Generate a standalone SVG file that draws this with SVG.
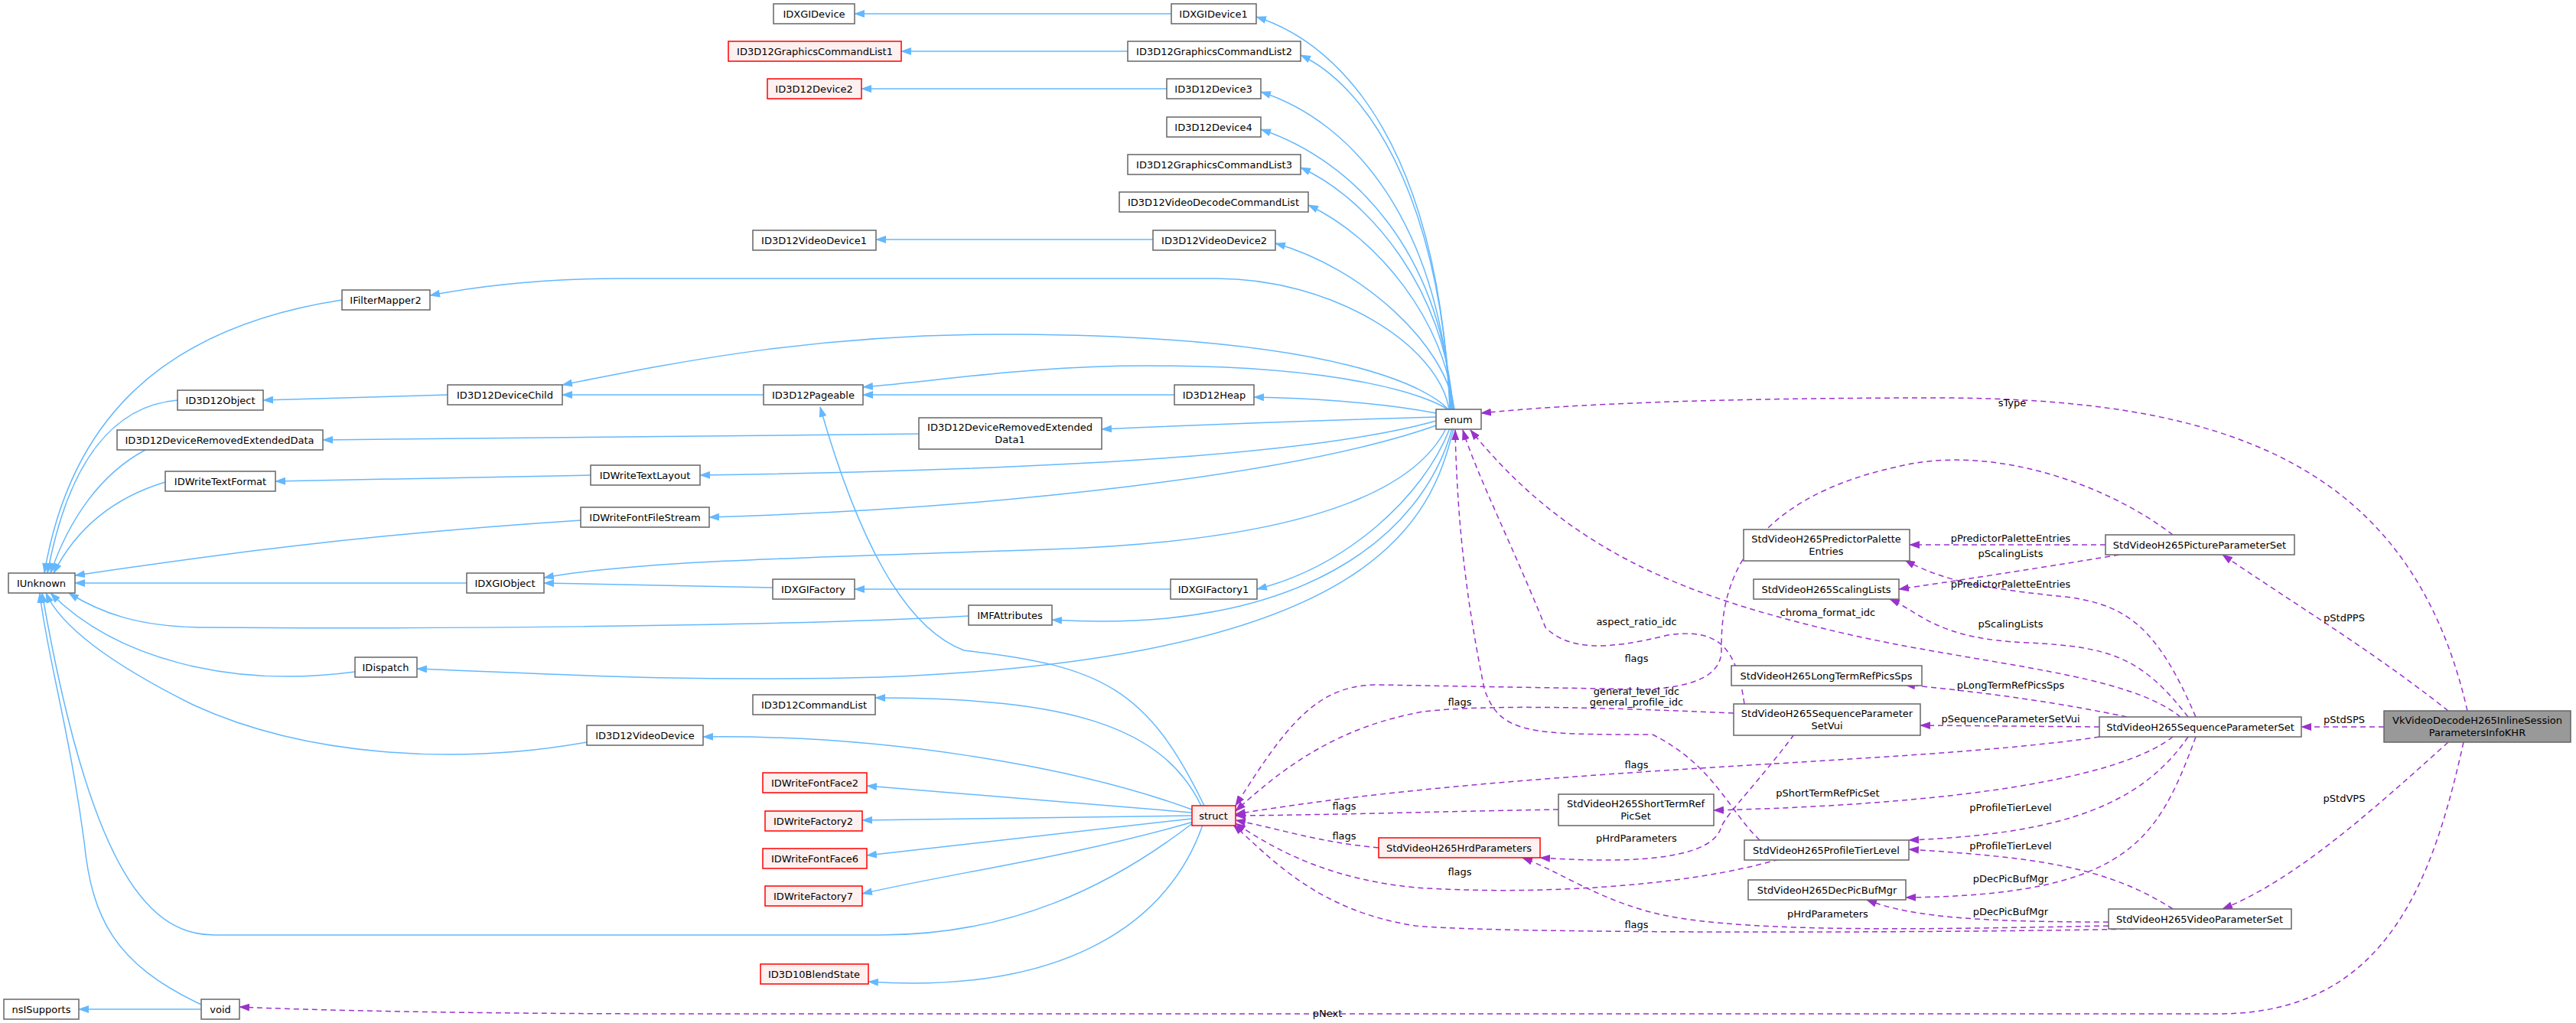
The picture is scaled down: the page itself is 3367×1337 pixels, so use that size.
<svg xmlns="http://www.w3.org/2000/svg" width="3367" height="1337" viewBox="0 0 3367 1337">
<style>
.n rect{fill:#fff;stroke:#666;stroke-width:1.5}
.r rect{fill:#fff0f0;stroke:#f00;stroke-width:1.5}
.g rect{fill:#999;stroke:#666;stroke-width:1.5}
text{font-family:"DejaVu Sans",sans-serif;font-size:13px;fill:#000;text-anchor:middle}
.b path{fill:none;stroke:#63b8ff;stroke-width:1.5}
.p path{fill:none;stroke:#9a32cd;stroke-width:1.5;stroke-dasharray:7,5}
</style>
<defs>
<marker id="ab" markerWidth="14" markerHeight="10" refX="13" refY="5" orient="auto" markerUnits="userSpaceOnUse"><path d="M0,0 L14,5 L0,10 z" fill="#63b8ff"/></marker>
<marker id="ap" markerWidth="14" markerHeight="10" refX="13" refY="5" orient="auto" markerUnits="userSpaceOnUse"><path d="M0,0 L14,5 L0,10 z" fill="#9a32cd"/></marker>
</defs>
<rect width="3367" height="1337" fill="#fff"/>
<g id="connectors">
<g class="b" marker-end="url(#ab)">
<path marker-end="url(#ab)" d="M1531 18 L1117 18"/>
<path marker-end="url(#ab)" d="M1474 67 L1178 67"/>
<path marker-end="url(#ab)" d="M1525 116 L1126 116"/>
<path marker-end="url(#ab)" d="M1507 313 L1145 313"/>
<path marker-end="url(#ab)" d="M1895 535 C1880 200 1760 60 1642 22"/>
<path marker-end="url(#ab)" d="M1896 535 C1880 240 1780 110 1700 72"/>
<path marker-end="url(#ab)" d="M1897 535 C1880 290 1770 160 1648 120"/>
<path marker-end="url(#ab)" d="M1898 535 C1885 330 1770 210 1648 169"/>
<path marker-end="url(#ab)" d="M1899 535 C1890 380 1790 260 1700 219"/>
<path d="M1900 535 C1890 420 1800 310 1710 268"/>
<path marker-end="url(#ab)" d="M1901 535 C1890 450 1780 350 1667 318"/>
<path marker-end="url(#ab)" d="M1894 535 C1880 450 1740 364 1590 364 L810 364 C700 364 620 375 562 386"/>
<path marker-end="url(#ab)" d="M1893 535 C1870 510 1760 440 1330 437 C1080 435 900 470 735 503"/>
<path marker-end="url(#ab)" d="M1892 535 C1870 520 1770 478 1500 478 C1350 478 1250 495 1128 506"/>
<path marker-end="url(#ab)" d="M1877 540 C1800 525 1700 520 1639 519"/>
<path marker-end="url(#ab)" d="M1877 545 C1700 550 1550 556 1440 561"/>
<path marker-end="url(#ab)" d="M1877 550 C1700 600 1300 615 915 621"/>
<path marker-end="url(#ab)" d="M1880 555 C1700 620 1300 665 927 676"/>
<path marker-end="url(#ab)" d="M1890 560 C1860 620 1760 705 1370 718 C1000 730 820 735 711 755"/>
<path marker-end="url(#ab)" d="M1895 560 C1860 650 1760 740 1643 770"/>
<path marker-end="url(#ab)" d="M1898 560 C1860 700 1700 830 1375 810"/>
<path marker-end="url(#ab)" d="M1900 560 C1870 680 1800 860 1150 885 C900 892 700 880 545 874"/>
<path marker-end="url(#ab)" d="M447 392 C200 430 90 560 58 749"/>
<path marker-end="url(#ab)" d="M232 523 C150 530 90 600 62 749"/>
<path marker-end="url(#ab)" d="M190 588 C130 620 90 680 66 749"/>
<path marker-end="url(#ab)" d="M216 630 C150 650 100 690 70 749"/>
<path marker-end="url(#ab)" d="M759 680 C450 700 250 730 98 752"/>
<path marker-end="url(#ab)" d="M610 762 L98 762"/>
<path marker-end="url(#ab)" d="M1266 805 C1000 820 500 822 270 820 C180 820 130 800 90 775"/>
<path marker-end="url(#ab)" d="M464 878 C300 900 150 860 66 775"/>
<path marker-end="url(#ab)" d="M767 970 C600 1000 400 990 250 920 C150 870 80 820 60 775"/>
<path marker-end="url(#ab)" d="M1560 1075 C1450 1160 1320 1222 1150 1222 L280 1222 C200 1222 120 1150 55 775"/>
<path marker-end="url(#ab)" d="M263 1313 C150 1260 120 1200 110 1100 C90 950 60 850 52 775"/>
<path marker-end="url(#ab)" d="M585 516 L344 523"/>
<path marker-end="url(#ab)" d="M998 516 L735 516"/>
<path marker-end="url(#ab)" d="M1535 516 L1128 516"/>
<path marker-end="url(#ab)" d="M1201 567 L422 575"/>
<path marker-end="url(#ab)" d="M772 621 L360 629"/>
<path marker-end="url(#ab)" d="M1010 768 L711 762"/>
<path marker-end="url(#ab)" d="M1530 770 L1117 770"/>
<path marker-end="url(#ab)" d="M263 1319 L103 1319"/>
<path marker-end="url(#ab)" d="M1574 1053 C1500 900 1440 870 1260 850 C1180 820 1120 700 1072 532"/>
<path marker-end="url(#ab)" d="M1570 1053 C1520 950 1400 912 1144 912"/>
<path marker-end="url(#ab)" d="M1558 1058 C1400 1000 1150 960 919 963"/>
<path marker-end="url(#ab)" d="M1558 1062 L1133 1027"/>
<path marker-end="url(#ab)" d="M1558 1066 L1127 1072"/>
<path marker-end="url(#ab)" d="M1558 1070 L1133 1118"/>
<path marker-end="url(#ab)" d="M1560 1074 C1400 1120 1250 1140 1127 1168"/>
<path marker-end="url(#ab)" d="M1572 1078 C1530 1200 1400 1300 1135 1283"/>
</g>
<g class="p">
<path marker-end="url(#ap)" d="M3225 929 C3150 600 2900 520 2530 520 C2250 520 2050 528 1936 540"/>
<path marker-end="url(#ap)" d="M3116 950 L3008 950"/>
<path marker-end="url(#ap)" d="M3200 929 C3100 850 3000 790 2905 725"/>
<path marker-end="url(#ap)" d="M3200 970 C3100 1060 3000 1150 2905 1188"/>
<path marker-end="url(#ap)" d="M3220 970 C3180 1150 3120 1325 2900 1325 L900 1325 C600 1325 400 1320 313 1316"/>
<path marker-end="url(#ap)" d="M2752 712 L2496 712"/>
<path marker-end="url(#ap)" d="M2770 725 C2650 745 2550 760 2482 770"/>
<path marker-end="url(#ap)" d="M2840 699 C2750 630 2600 580 2480 610 C2250 660 2250 800 2250 850 C2250 880 2220 898 2150 901 L1800 895 C1720 895 1680 950 1615 1053"/>
<path marker-end="url(#ap)" d="M2870 937 C2820 820 2780 790 2700 780 C2600 770 2540 760 2490 732"/>
<path marker-end="url(#ap)" d="M2860 937 C2800 860 2760 845 2650 840 C2530 835 2510 800 2470 783"/>
<path marker-end="url(#ap)" d="M2850 937 C2780 880 2600 870 2420 830 C2200 780 2050 720 1922 562"/>
<path marker-end="url(#ap)" d="M2780 937 C2700 920 2600 905 2490 895"/>
<path marker-end="url(#ap)" d="M2744 950 L2510 948"/>
<path marker-end="url(#ap)" d="M2744 963 C2500 1000 2000 1000 1615 1064"/>
<path marker-end="url(#ap)" d="M2840 963 C2780 1010 2600 1050 2240 1059"/>
<path marker-end="url(#ap)" d="M2860 963 C2800 1050 2700 1090 2495 1098"/>
<path marker-end="url(#ap)" d="M2870 963 C2820 1100 2780 1170 2491 1173"/>
<path marker-end="url(#ap)" d="M2280 920 C2270 850 2250 820 2180 830 C2100 850 2050 850 2020 820 C1980 720 1930 620 1912 562"/>
<path marker-end="url(#ap)" d="M2266 932 C2100 925 1950 920 1860 930 C1750 950 1680 1000 1615 1060"/>
<path marker-end="url(#ap)" d="M2345 960 C2300 1020 2260 1060 2250 1080 C2240 1120 2150 1130 2013 1121"/>
<path marker-end="url(#ap)" d="M2037 1058 C1900 1060 1750 1065 1615 1066"/>
<path marker-end="url(#ap)" d="M1802 1108 C1720 1100 1680 1085 1615 1072"/>
<path marker-end="url(#ap)" d="M2300 1098 C2260 1060 2240 1000 2160 960 C2000 960 1960 960 1940 900 C1920 800 1905 700 1902 562"/>
<path marker-end="url(#ap)" d="M2325 1123 C2200 1160 2000 1170 1850 1160 C1750 1150 1680 1120 1615 1076"/>
<path marker-end="url(#ap)" d="M2840 1188 C2750 1130 2650 1120 2495 1110"/>
<path marker-end="url(#ap)" d="M2756 1205 C2600 1205 2500 1200 2440 1176"/>
<path marker-end="url(#ap)" d="M2756 1210 C2500 1215 2250 1220 2150 1190 C2080 1170 2040 1140 1990 1121"/>
<path marker-end="url(#ap)" d="M2790 1214 C2500 1220 1950 1220 1850 1210 C1720 1190 1660 1120 1612 1078"/>
</g>
<g id="labels">
<text x="2630" y="531">sType</text>
<text x="2628" y="708">pPredictorPaletteEntries</text>
<text x="2628" y="728">pScalingLists</text>
<text x="2628" y="768">pPredictorPaletteEntries</text>
<text x="2628" y="820">pScalingLists</text>
<text x="2389" y="805">chroma_format_idc</text>
<text x="2139" y="817">aspect_ratio_idc</text>
<text x="2139" y="865">flags</text>
<text x="2628" y="900">pLongTermRefPicsSps</text>
<text x="2139" y="908">general_level_idc</text>
<text x="2139" y="922">general_profile_idc</text>
<text x="1908" y="922">flags</text>
<text x="2628" y="944">pSequenceParameterSetVui</text>
<text x="3064" y="945">pStdSPS</text>
<text x="3064" y="812">pStdPPS</text>
<text x="2139" y="1004">flags</text>
<text x="2389" y="1041">pShortTermRefPicSet</text>
<text x="3064" y="1048">pStdVPS</text>
<text x="1757" y="1058">flags</text>
<text x="2628" y="1060">pProfileTierLevel</text>
<text x="1757" y="1097">flags</text>
<text x="2139" y="1100">pHrdParameters</text>
<text x="2628" y="1110">pProfileTierLevel</text>
<text x="1908" y="1144">flags</text>
<text x="2628" y="1153">pDecPicBufMgr</text>
<text x="2389" y="1199">pHrdParameters</text>
<text x="2628" y="1196">pDecPicBufMgr</text>
<text x="2139" y="1213">flags</text>
<text x="1735" y="1329">pNext</text>
</g>
</g>
<g id="IDXGIDevice" class="n"><rect x="1011" y="5" width="106" height="26"/><text x="1064" y="23">IDXGIDevice</text></g>
<g id="IDXGIDevice1" class="n"><rect x="1531" y="5" width="111" height="26"/><text x="1586" y="23">IDXGIDevice1</text></g>
<g id="GCL1" class="r"><rect x="952" y="54" width="226" height="26"/><text x="1065" y="72">ID3D12GraphicsCommandList1</text></g>
<g id="GCL2" class="n"><rect x="1474" y="54" width="226" height="26"/><text x="1587" y="72">ID3D12GraphicsCommandList2</text></g>
<g id="Device2" class="r"><rect x="1003" y="103" width="123" height="26"/><text x="1064" y="121">ID3D12Device2</text></g>
<g id="Device3" class="n"><rect x="1525" y="103" width="123" height="26"/><text x="1586" y="121">ID3D12Device3</text></g>
<g id="Device4" class="n"><rect x="1525" y="153" width="123" height="26"/><text x="1586" y="171">ID3D12Device4</text></g>
<g id="GCL3" class="n"><rect x="1474" y="202" width="226" height="26"/><text x="1587" y="220">ID3D12GraphicsCommandList3</text></g>
<g id="VDCL" class="n"><rect x="1463" y="251" width="247" height="26"/><text x="1586" y="269">ID3D12VideoDecodeCommandList</text></g>
<g id="VideoDevice1" class="n"><rect x="984" y="301" width="161" height="26"/><text x="1064" y="319">ID3D12VideoDevice1</text></g>
<g id="VideoDevice2" class="n"><rect x="1507" y="301" width="160" height="26"/><text x="1587" y="319">ID3D12VideoDevice2</text></g>
<g id="IFilterMapper2" class="n"><rect x="447" y="379" width="115" height="26"/><text x="504" y="397">IFilterMapper2</text></g>
<g id="ID3D12Object" class="n"><rect x="232" y="510" width="112" height="26"/><text x="288" y="528">ID3D12Object</text></g>
<g id="DeviceChild" class="n"><rect x="585" y="503" width="150" height="26"/><text x="660" y="521">ID3D12DeviceChild</text></g>
<g id="Pageable" class="n"><rect x="998" y="503" width="130" height="26"/><text x="1063" y="521">ID3D12Pageable</text></g>
<g id="Heap" class="n"><rect x="1535" y="503" width="104" height="26"/><text x="1587" y="521">ID3D12Heap</text></g>
<g id="DRED" class="n"><rect x="153" y="562" width="269" height="26"/><text x="287" y="580">ID3D12DeviceRemovedExtendedData</text></g>
<g id="DRED1" class="n"><rect x="1201" y="546" width="239" height="41"/><text x="1320" y="563">ID3D12DeviceRemovedExtended</text><text x="1320" y="579">Data1</text></g>
<g id="TextFormat" class="n"><rect x="216" y="616" width="144" height="26"/><text x="288" y="634">IDWriteTextFormat</text></g>
<g id="TextLayout" class="n"><rect x="772" y="608" width="143" height="26"/><text x="843" y="626">IDWriteTextLayout</text></g>
<g id="FontFileStream" class="n"><rect x="759" y="663" width="168" height="26"/><text x="843" y="681">IDWriteFontFileStream</text></g>
<g id="IUnknown" class="n"><rect x="11" y="749" width="87" height="26"/><text x="54" y="767">IUnknown</text></g>
<g id="IDXGIObject" class="n"><rect x="610" y="749" width="101" height="26"/><text x="660" y="767">IDXGIObject</text></g>
<g id="IDXGIFactory" class="n"><rect x="1010" y="757" width="107" height="26"/><text x="1063" y="775">IDXGIFactory</text></g>
<g id="IDXGIFactory1" class="n"><rect x="1530" y="757" width="113" height="26"/><text x="1586" y="775">IDXGIFactory1</text></g>
<g id="IMFAttributes" class="n"><rect x="1266" y="791" width="109" height="26"/><text x="1320" y="809">IMFAttributes</text></g>
<g id="IDispatch" class="n"><rect x="464" y="859" width="81" height="26"/><text x="504" y="877">IDispatch</text></g>
<g id="CommandList" class="n"><rect x="984" y="908" width="160" height="26"/><text x="1064" y="926">ID3D12CommandList</text></g>
<g id="VideoDevice" class="n"><rect x="767" y="948" width="152" height="26"/><text x="843" y="966">ID3D12VideoDevice</text></g>
<g id="FontFace2" class="r"><rect x="997" y="1010" width="136" height="26"/><text x="1065" y="1028">IDWriteFontFace2</text></g>
<g id="Factory2" class="r"><rect x="1000" y="1060" width="127" height="26"/><text x="1063" y="1078">IDWriteFactory2</text></g>
<g id="FontFace6" class="r"><rect x="997" y="1109" width="136" height="26"/><text x="1065" y="1127">IDWriteFontFace6</text></g>
<g id="Factory7" class="r"><rect x="1000" y="1158" width="127" height="26"/><text x="1063" y="1176">IDWriteFactory7</text></g>
<g id="struct" class="r"><rect x="1558" y="1053" width="57" height="26"/><text x="1586" y="1071">struct</text></g>
<g id="BlendState" class="r"><rect x="994" y="1260" width="141" height="26"/><text x="1064" y="1278">ID3D10BlendState</text></g>
<g id="nsISupports" class="n"><rect x="5" y="1306" width="98" height="26"/><text x="54" y="1324">nsISupports</text></g>
<g id="void" class="n"><rect x="263" y="1306" width="50" height="26"/><text x="288" y="1324">void</text></g>
<g id="enum" class="n"><rect x="1877" y="535" width="59" height="26"/><text x="1906" y="553">enum</text></g>
<g id="VkInfo" class="g"><rect x="3116" y="929" width="244" height="41"/><text x="3238" y="946">VkVideoDecodeH265InlineSession</text><text x="3238" y="962">ParametersInfoKHR</text></g>
<g id="SPS" class="n"><rect x="2744" y="937" width="264" height="26"/><text x="2876" y="955">StdVideoH265SequenceParameterSet</text></g>
<g id="PPS" class="n"><rect x="2752" y="699" width="247" height="26"/><text x="2875" y="717">StdVideoH265PictureParameterSet</text></g>
<g id="PredPalette" class="n"><rect x="2279" y="692" width="217" height="41"/><text x="2387" y="709">StdVideoH265PredictorPalette</text><text x="2387" y="725">Entries</text></g>
<g id="ScalingLists" class="n"><rect x="2292" y="757" width="190" height="26"/><text x="2387" y="775">StdVideoH265ScalingLists</text></g>
<g id="LTRPS" class="n"><rect x="2263" y="870" width="249" height="26"/><text x="2387" y="888">StdVideoH265LongTermRefPicsSps</text></g>
<g id="Vui" class="n"><rect x="2266" y="920" width="244" height="41"/><text x="2388" y="937">StdVideoH265SequenceParameter</text><text x="2388" y="953">SetVui</text></g>
<g id="ShortTerm" class="n"><rect x="2037" y="1038" width="203" height="41"/><text x="2138" y="1055">StdVideoH265ShortTermRef</text><text x="2138" y="1071">PicSet</text></g>
<g id="Hrd" class="r"><rect x="1802" y="1095" width="211" height="26"/><text x="1907" y="1113">StdVideoH265HrdParameters</text></g>
<g id="ProfileTier" class="n"><rect x="2280" y="1098" width="215" height="26"/><text x="2387" y="1116">StdVideoH265ProfileTierLevel</text></g>
<g id="DecPicBufMgr" class="n"><rect x="2285" y="1150" width="206" height="26"/><text x="2388" y="1168">StdVideoH265DecPicBufMgr</text></g>
<g id="VPS" class="n"><rect x="2756" y="1188" width="239" height="26"/><text x="2875" y="1206">StdVideoH265VideoParameterSet</text></g>
</svg>
